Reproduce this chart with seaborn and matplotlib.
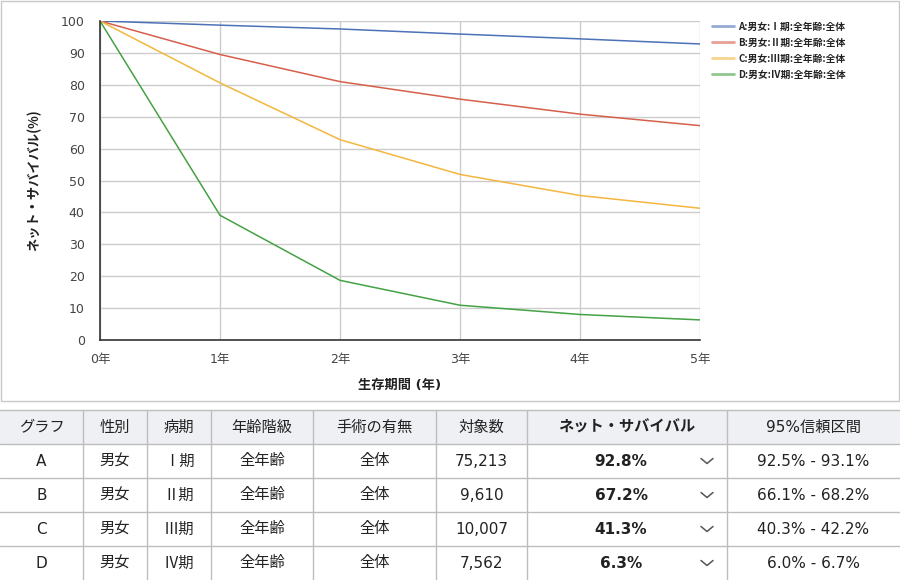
import numpy as np
import pandas as pd
import matplotlib
matplotlib.use("Agg")
import matplotlib.pyplot as plt
from matplotlib.patches import Rectangle
import seaborn as sns

# ── Data ────────────────────────────────────────────────────
years      = [0, 1, 2, 3, 4, 5]
year_ticks = ["0年", "1年", "2年", "3年", "4年", "5年"]
surv_a = [100, 98.7, 97.5, 95.9, 94.4, 92.8]
surv_b = [100, 89.5, 81.0, 75.5, 70.8, 67.2]
surv_c = [100, 80.6, 62.8, 51.9, 45.3, 41.3]
surv_d = [100, 39.1, 18.7, 10.9, 8.0, 6.3]
series_names = ["A:男女:Ⅰ期:全年齢:全体", "B:男女:Ⅱ期:全年齢:全体",
                "C:男女:Ⅲ期:全年齢:全体", "D:男女:Ⅳ期:全年齢:全体"]
colors = ["#4d72b8", "#d65f4c", "#f4b63f", "#44a244"]

table_header = ["グラフ", "性別", "病期", "年齢階級", "手術の有無", "対象数",
                "ネット・サバイバル", "95%信頼区間"]
graph_col  = ["A", "B", "C", "D"]
sex_col    = ["男女", "男女", "男女", "男女"]
stage_col  = ["Ⅰ期", "Ⅱ期", "Ⅲ期", "Ⅳ期"]
age_col    = ["全年齢", "全年齢", "全年齢", "全年齢"]
surg_col   = ["全体", "全体", "全体", "全体"]
n_col      = ["75,213", "9,610", "10,007", "7,562"]
net_col    = ["92.8%", "67.2%", "41.3%", "6.3%"]
ci_col     = ["92.5% - 93.1%", "66.1% - 68.2%", "40.3% - 42.2%", "6.0% - 6.7%"]

# ── Style ───────────────────────────────────────────────────
sns.set_style("white")
plt.rcParams["font.family"] = ["DejaVu Sans", "Noto Sans CJK JP"]
CJK_FIRST = ["Noto Sans CJK JP", "DejaVu Sans"]

W, H = 900, 580
fig = plt.figure(figsize=(W / 100, H / 100), dpi=100)

def px_axes(x0, y0, x1, y1):
    return fig.add_axes([x0 / W, 1 - y1 / H, (x1 - x0) / W, (y1 - y0) / H])

# chart frame
fig.patches.append(Rectangle((0.5 / W, 1 - 401 / H), 898.5 / W, 400.5 / H,
                             transform=fig.transFigure, fill=False,
                             edgecolor="#c8c8c8", lw=1))

# ── Line chart ──────────────────────────────────────────────
df = pd.DataFrame({
    "year": years * 4,
    "surv": surv_a + surv_b + surv_c + surv_d,
    "series": np.repeat(series_names, len(years)),
})

ax = px_axes(100, 21, 700, 340)
sns.lineplot(data=df, x="year", y="surv", hue="series", palette=colors,
             hue_order=series_names, lw=1.1, ax=ax)
ax.set_xlim(0, 5)
ax.set_ylim(0, 100)
ax.set_xticks(years)
ax.set_xticklabels(year_ticks)
ax.set_yticks(range(0, 101, 10))
ax.tick_params(labelsize=9, colors="#444444", length=0)
ax.tick_params(axis="x", pad=9)
ax.tick_params(axis="y", pad=11)
ax.grid(True, color="#cccccc", lw=1)
for s in ["top", "right"]:
    ax.spines[s].set_visible(False)
for s in ["left", "bottom"]:
    ax.spines[s].set_color("#333333")
    ax.spines[s].set_linewidth(1.2)
ax.set_xlabel("生存期間 (年)", fontsize=9.5, fontweight="bold", color="#222222",
              labelpad=10)
ax.set_ylabel("ネット・サバイバル(%)", fontsize=9.5, fontweight="bold",
              color="#222222", labelpad=14, family=CJK_FIRST)

leg = ax.legend(loc="upper left", bbox_to_anchor=(703 / W, 1 - 13 / H),
                bbox_transform=fig.transFigure, frameon=False,
                prop={"family": CJK_FIRST, "size": 7, "weight": "bold"},
                handlelength=2.3, labelspacing=0.62, handletextpad=0.45)
for line in leg.get_lines():
    line.set_alpha(0.6)
    line.set_linewidth(2)
for t in leg.get_texts():
    t.set_color("#222222")

# ── Table ───────────────────────────────────────────────────
tax = px_axes(0, 410, 900, 580)
tax.set_xlim(0, W)
tax.set_ylim(580, 410)
tax.axis("off")

col_edges = [0, 83, 147, 211, 313, 436, 527, 727, 900]
row_edges = [410, 444, 478, 512, 546, 580]
centers = [(a + b) / 2 for a, b in zip(col_edges[:-1], col_edges[1:])]
centers[6] = 621

tax.add_patch(Rectangle((0, 410), 900, 34, facecolor="#eef0f4", edgecolor="none"))
for y in row_edges[:-1]:
    tax.plot([0, 900], [y, y], color="#bdbdbd", lw=1, clip_on=False)
for x in col_edges[1:-1]:
    tax.plot([x, x], [410, 580], color="#bdbdbd", lw=1, clip_on=False)

fs = 11
for i, h in enumerate(table_header):
    cx = (col_edges[i] + col_edges[i + 1]) / 2
    tax.text(cx, 427, h, ha="center", va="center", fontsize=fs, color="#222222",
             fontweight="bold" if i == 6 else "normal")

rows = list(zip(graph_col, sex_col, stage_col, age_col, surg_col, n_col,
                net_col, ci_col))
for r, row in enumerate(rows):
    cy = (row_edges[r + 1] + row_edges[r + 2]) / 2
    for c, val in enumerate(row):
        tax.text(centers[c], cy, val, ha="center", va="center", fontsize=fs,
                 color="#222222", fontweight="bold" if c == 6 else "normal",
                 family=CJK_FIRST if c == 2 else None)
    # dropdown chevron
    tax.plot([701, 707, 713], [cy - 2.5, cy + 2.5, cy - 2.5], color="#555555",
             lw=1.1)

fig.savefig("out.png", dpi=100)
